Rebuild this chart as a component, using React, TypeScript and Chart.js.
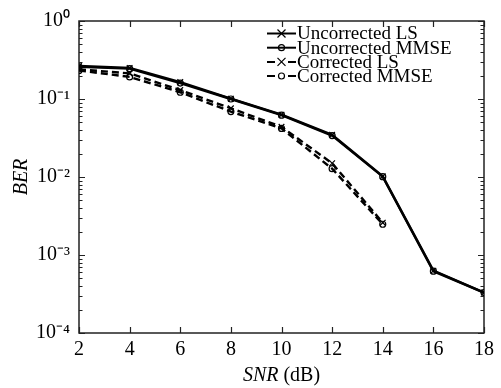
import React, { useEffect, useRef } from "react";
import { Chart, registerables } from "chart.js";

Chart.register(...registerables);

const snrAll = [2, 4, 6, 8, 10, 12, 14, 16, 18];
const snrCorrected = [2, 4, 6, 8, 10, 12, 14];
const uncorrectedLS = [0.265, 0.25, 0.165, 0.101, 0.063, 0.0347, 0.0102, 0.00063, 0.00033];
const uncorrectedMMSE = [0.258, 0.245, 0.16, 0.1, 0.062, 0.034, 0.0101, 0.00062, 0.00033];
const correctedLS = [0.24, 0.213, 0.13, 0.076, 0.044, 0.015, 0.0026];
const correctedMMSE = [0.232, 0.192, 0.122, 0.069, 0.042, 0.0128, 0.00248];
const seriesLabels = ["Uncorrected LS", "Uncorrected MMSE", "Corrected LS", "Corrected MMSE"];
const xTicks = [2, 4, 6, 8, 10, 12, 14, 16, 18];

const SERIF = '"Liberation Serif", "Times New Roman", serif';
const SUP: Record<string, string> = {
  "0": "\u2070", "1": "\u00B9", "2": "\u00B2", "3": "\u00B3", "4": "\u2074",
  "5": "\u2075", "6": "\u2076", "7": "\u2077", "8": "\u2078", "9": "\u2079", "-": "\u207B",
};
const toSup = (s: string) => s.split("").map((c) => SUP[c] || c).join("");

const pts = (xs: number[], ys: number[]) => xs.map((x, i) => ({ x, y: ys[i] }));

const drawMarker = (ctx: CanvasRenderingContext2D, style: string, x: number, y: number) => {
  ctx.save();
  ctx.setLineDash([]);
  ctx.lineWidth = 1.2;
  ctx.strokeStyle = "#000";
  ctx.beginPath();
  if (style === "crossRot") {
    const r = 4;
    ctx.moveTo(x - r, y - r);
    ctx.lineTo(x + r, y + r);
    ctx.moveTo(x + r, y - r);
    ctx.lineTo(x - r, y + r);
  } else {
    ctx.arc(x, y, 3, 0, Math.PI * 2);
  }
  ctx.stroke();
  ctx.restore();
};

const framePlugin = {
  id: "frame",
  beforeDatasetsDraw(chart: any) {
    const { ctx, chartArea: a, scales } = chart;
    const xs = scales.x;
    const ys = scales.y;
    ctx.save();
    ctx.strokeStyle = "#222";
    ctx.lineWidth = 1.2;
    xTicks.forEach((v) => {
      const px = Math.round(xs.getPixelForValue(v)) + 0.5;
      ctx.beginPath();
      ctx.moveTo(px, a.bottom);
      ctx.lineTo(px, a.bottom - 6);
      ctx.moveTo(px, a.top);
      ctx.lineTo(px, a.top + 6);
      ctx.stroke();
    });
    for (let e = -4; e <= 0; e++) {
      for (let m = 1; m <= 9; m++) {
        const v = m * Math.pow(10, e);
        if (v > 1.0000001) break;
        const py = Math.round(ys.getPixelForValue(v)) + 0.5;
        const len = m === 1 ? 6 : 3.5;
        ctx.beginPath();
        ctx.moveTo(a.left, py);
        ctx.lineTo(a.left + len, py);
        ctx.moveTo(a.right, py);
        ctx.lineTo(a.right - len, py);
        ctx.stroke();
      }
    }
    ctx.lineWidth = 1.5;
    ctx.strokeStyle = "#222";
    ctx.strokeRect(a.left, a.top, a.right - a.left, a.bottom - a.top);
    ctx.restore();
  },
  afterDraw(chart: any) {
    const { ctx, chartArea: a } = chart;
    ctx.save();
    ctx.fillStyle = "#000";
    ctx.save();
    ctx.translate(22, (a.top + a.bottom) / 2);
    ctx.rotate(-Math.PI / 2);
    ctx.font = "italic 20px " + SERIF;
    ctx.textAlign = "center";
    ctx.textBaseline = "middle";
    ctx.fillText("BER", 0, 0);
    ctx.restore();
    const t1 = "SNR";
    const t2 = " (dB)";
    ctx.font = "italic 20px " + SERIF;
    const w1 = ctx.measureText(t1).width;
    ctx.font = "20px " + SERIF;
    const w2 = ctx.measureText(t2).width;
    const cx = (a.left + a.right) / 2;
    const sx = cx - (w1 + w2) / 2;
    ctx.textBaseline = "middle";
    ctx.textAlign = "left";
    ctx.font = "italic 20px " + SERIF;
    ctx.fillText(t1, sx, 376);
    ctx.font = "20px " + SERIF;
    ctx.fillText(t2, sx + w1, 376);
    const rows = [33.5, 47.7, 61.9, 76];
    chart.data.datasets.forEach((ds: any, i: number) => {
      const y = rows[i];
      ctx.save();
      ctx.strokeStyle = "#000";
      ctx.lineWidth = 2;
      ctx.beginPath();
      if (ds.borderDash && ds.borderDash.length) {
        ctx.moveTo(267, y);
        ctx.lineTo(275, y);
        ctx.moveTo(288, y);
        ctx.lineTo(296, y);
      } else {
        ctx.moveTo(267, y);
        ctx.lineTo(296, y);
      }
      ctx.stroke();
      ctx.restore();
      drawMarker(ctx, ds.pointStyle, 281.5, y);
      ctx.font = "19px " + SERIF;
      ctx.fillStyle = "#000";
      ctx.textAlign = "left";
      ctx.textBaseline = "middle";
      ctx.fillText(ds.label, 297, y + 1);
    });
    ctx.restore();
  },
};

export default function App() {
  const ref = useRef<HTMLCanvasElement>(null);
  useEffect(() => {
    if (!ref.current) return;
    const common = {
      borderColor: "#000",
      pointBorderColor: "#000",
      pointBackgroundColor: "rgba(0,0,0,0)",
      pointBorderWidth: 1.2,
      borderWidth: 2.4,
      fill: false,
      tension: 0,
    };
    const chart = new Chart(ref.current, {
      type: "line",
      data: {
        datasets: [
          { ...common, label: seriesLabels[0], data: pts(snrAll, uncorrectedLS), pointStyle: "crossRot", pointRadius: 4 },
          { ...common, label: seriesLabels[1], data: pts(snrAll, uncorrectedMMSE), pointStyle: "circle", pointRadius: 3 },
          { ...common, label: seriesLabels[2], data: pts(snrCorrected, correctedLS), pointStyle: "crossRot", pointRadius: 4, borderDash: [7, 4] },
          { ...common, label: seriesLabels[3], data: pts(snrCorrected, correctedMMSE), pointStyle: "circle", pointRadius: 3, borderDash: [7, 4] },
        ] as any,
      },
      options: {
        animation: false,
        responsive: false,
        maintainAspectRatio: false,
        layout: { padding: { top: 15, right: 17, left: 0, bottom: 0 } },
        plugins: { legend: { display: false }, tooltip: { enabled: false } },
        scales: {
          x: {
            type: "linear",
            min: 2,
            max: 18,
            afterFit: (s: any) => { s.height = 55; },
            afterBuildTicks: (s: any) => { s.ticks = xTicks.map((v) => ({ value: v })); },
            grid: { display: false, drawTicks: false },
            border: { display: false },
            ticks: {
              padding: 5,
              color: "#000",
              font: { family: SERIF, size: 20 },
              autoSkip: false,
              maxRotation: 0,
            },
          },
          y: {
            type: "logarithmic",
            min: 1e-4,
            max: 1,
            afterFit: (s: any) => { s.width = 79; },
            afterBuildTicks: (s: any) => { s.ticks = [1e-4, 1e-3, 1e-2, 1e-1, 1].map((v) => ({ value: v })); },
            grid: { display: false, drawTicks: false },
            border: { display: false },
            ticks: {
              padding: 9,
              color: "#000",
              font: { family: SERIF, size: 20 },
              autoSkip: false,
              callback: (v: any) => {
                const e = Math.round(Math.log10(Number(v)));
                return "10" + toSup(String(e));
              },
            },
          },
        },
      } as any,
      plugins: [framePlugin],
    });
    return () => chart.destroy();
  }, []);
  return (
    <div style={{ position: "fixed", left: 0, top: 0, width: 501, height: 388, background: "#fff" }}>
      <canvas ref={ref} width={501} height={388} style={{ display: "block" }} />
    </div>
  );
}
